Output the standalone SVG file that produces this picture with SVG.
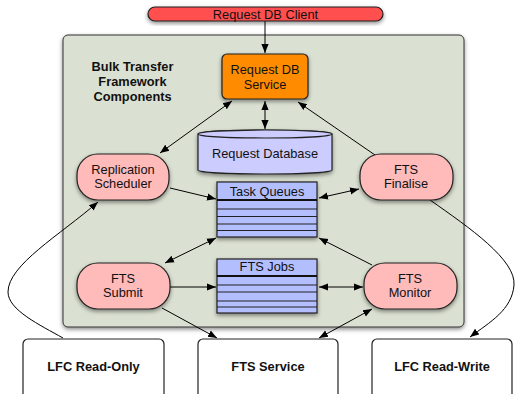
<svg xmlns="http://www.w3.org/2000/svg" width="516" height="394" viewBox="0 0 516 394">
<defs>
<filter id="sh" x="-20%" y="-20%" width="140%" height="150%">
<feDropShadow dx="0" dy="2" stdDeviation="2" flood-color="#000" flood-opacity="0.45"/>
</filter>
<marker id="ah" viewBox="0 0 10 10" refX="10" refY="5" markerWidth="9" markerHeight="9" markerUnits="userSpaceOnUse" orient="auto-start-reverse">
<path d="M0,1 L10,5 L0,9 z" fill="#000"/>
</marker>
</defs>
<style>
text{font-family:"Liberation Sans",Arial,sans-serif;font-size:12.8px;fill:#111;text-anchor:middle}
.b{font-weight:bold}
.n{stroke:#222;stroke-width:1.2}
.pink{fill:#ffbaba}
.q{fill:#b3beff}
.c{fill:none;stroke:#000;stroke-width:1}
.e1{marker-end:url(#ah)}
.e2{marker-start:url(#ah);marker-end:url(#ah)}
.row{stroke:#222;stroke-width:1}
.hd{stroke:#111;stroke-width:2}
</style>
<rect width="516" height="394" fill="#fff"/>
<g id="container">
<rect x="63" y="35" width="401" height="292" rx="5" fill="#dbe1d2" stroke="#333" stroke-width="1" filter="url(#sh)"/>
<text class="b" x="132.5" y="71">Bulk Transfer</text>
<text class="b" x="132.5" y="86">Framework</text>
<text class="b" x="132.5" y="101">Components</text>
</g>
<g id="connectors">
<path class="c e1" d="M265,21 L265,53"/>
<path class="c e2" d="M160,153 L232,101"/>
<path class="c e2" d="M265,101 L265,129"/>
<path class="c e1" d="M375,155 L298,102"/>
<path class="c e1" d="M170,188 L216,199"/>
<path class="c e2" d="M319,198 L359,189"/>
<path class="c e2" d="M165,263 L216,238"/>
<path class="c e1" d="M372,265 L319,238"/>
<path class="c e1" d="M170,287 L216,287"/>
<path class="c e2" d="M319,287 L363,287"/>
<path class="c e1" d="M162,308 L217,338"/>
<path class="c e2" d="M319,338 L372,309"/>
<path class="c e1" d="M63,338 C40,325 8,310 8,292 C8,265 60,235 98,202"/>
<path class="c e1" d="M430,200 C470,228 516,260 514,285 C512,310 490,322 470,337"/>
</g>
<g id="client">
<rect class="n" x="148" y="7" width="235" height="14" rx="7" fill="#ff5050" filter="url(#sh)"/>
<text x="265.5" y="18.5">Request DB Client</text>
</g>
<g id="service">
<rect class="n" x="222" y="54" width="86" height="45" rx="5" fill="#ff8c00" filter="url(#sh)"/>
<text x="265" y="74">Request DB</text>
<text x="265" y="89">Service</text>
</g>
<g id="database">
<path class="n" d="M198,134 L198,170 A67,4 0 0 0 332,170 L332,134 A67,4 0 0 0 198,134 z" fill="#ccccff" filter="url(#sh)"/>
<ellipse class="n" cx="265" cy="134" rx="67" ry="4" fill="#ccccff"/>
<text x="265" y="158">Request Database</text>
</g>
<g id="replication">
<rect class="n pink" x="77" y="154" width="92" height="46" rx="21" filter="url(#sh)"/>
<text x="123" y="174">Replication</text>
<text x="123" y="188">Scheduler</text>
</g>
<g id="finalise">
<rect class="n pink" x="360" y="154" width="93" height="46" rx="21" filter="url(#sh)"/>
<text x="406" y="174">FTS</text>
<text x="406" y="188">Finalise</text>
</g>
<g id="taskqueues">
<rect class="n q" x="217" y="182" width="100" height="55" filter="url(#sh)"/>
<line class="hd" x1="217" y1="200" x2="317" y2="200"/>
<line class="row" x1="217" y1="209" x2="317" y2="209"/>
<line class="row" x1="217" y1="216.5" x2="317" y2="216.5"/>
<line class="row" x1="217" y1="224" x2="317" y2="224"/>
<line class="row" x1="217" y1="230.5" x2="317" y2="230.5"/>
<text x="267" y="196">Task Queues</text>
</g>
<g id="submit">
<rect class="n pink" x="77" y="263" width="93" height="46" rx="21" filter="url(#sh)"/>
<text x="123" y="283">FTS</text>
<text x="123" y="297">Submit</text>
</g>
<g id="ftsjobs">
<rect class="n q" x="217" y="259" width="100" height="54" filter="url(#sh)"/>
<line class="hd" x1="217" y1="276" x2="317" y2="276"/>
<line class="row" x1="217" y1="285" x2="317" y2="285"/>
<line class="row" x1="217" y1="292" x2="317" y2="292"/>
<line class="row" x1="217" y1="301" x2="317" y2="301"/>
<line class="row" x1="217" y1="307" x2="317" y2="307"/>
<text x="267" y="271">FTS Jobs</text>
</g>
<g id="monitor">
<rect class="n pink" x="364" y="263" width="93" height="46" rx="21" filter="url(#sh)"/>
<text x="410" y="283">FTS</text>
<text x="410" y="297">Monitor</text>
</g>
<g id="lfcro">
<rect class="n" x="23" y="339" width="141" height="60" rx="5" fill="#fff"/>
<text class="b" x="93.5" y="371">LFC Read-Only</text>
</g>
<g id="ftsservice">
<rect class="n" x="198" y="339" width="140" height="60" rx="5" fill="#fff"/>
<text class="b" x="268" y="371">FTS Service</text>
</g>
<g id="lfcrw">
<rect class="n" x="372" y="339" width="140" height="60" rx="5" fill="#fff"/>
<text class="b" x="442" y="371">LFC Read-Write</text>
</g>
</svg>
